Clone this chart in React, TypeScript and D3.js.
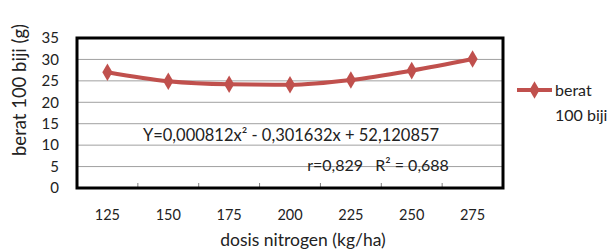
import React, { useRef, useEffect } from 'react';
import * as d3 from 'd3';

const doses = ['125', '150', '175', '200', '225', '250', '275'];
const weights = [27.0, 24.9, 24.2, 24.1, 25.2, 27.4, 30.1];
const yTicks = [0, 5, 10, 15, 20, 25, 30, 35];

const seriesName = ['berat', '100 biji'];
const equation = 'Y=0,000812x² - 0,301632x + 52,120857';
const stats = 'r=0,829   R² = 0,688';

const App = () => {
  const svgRef = useRef<SVGSVGElement>(null);

  useEffect(() => {
    const svg = d3.select(svgRef.current);
    svg.selectAll('*').remove();

    const left = 77;
    const right = 503;
    const top = 38;
    const bottom = 188;
    const red = '#c0504d';
    const font = 'Lato, "Open Sans", sans-serif';

    const x = d3.scaleBand().domain(doses).range([left, right]);
    const y = d3.scaleLinear().domain([0, 35]).range([bottom, top]);

    const g = svg.append('g').style('font-family', font).attr('fill', '#222');

    // white plot area + gridlines
    g.append('rect').attr('x', left).attr('y', top).attr('width', right - left).attr('height', bottom - top).attr('fill', '#fff');
    g.append('g')
      .selectAll('line')
      .data(yTicks.slice(1, -1))
      .join('line')
      .attr('x1', left)
      .attr('x2', right)
      .attr('y1', (d) => y(d))
      .attr('y2', (d) => y(d))
      .attr('stroke', '#a0a0a0')
      .attr('stroke-width', 1);

    // ticks on bottom at band edges
    g.append('g')
      .selectAll('line')
      .data(doses.slice(1))
      .join('line')
      .attr('x1', (d) => x(d)!)
      .attr('x2', (d) => x(d)!)
      .attr('y1', bottom)
      .attr('y2', bottom - 5)
      .attr('stroke', '#808080');

    // frame
    g.append('rect')
      .attr('x', left)
      .attr('y', top)
      .attr('width', right - left)
      .attr('height', bottom - top)
      .attr('fill', 'none')
      .attr('stroke', '#000')
      .attr('stroke-width', 3);

    // y tick labels
    g.append('g')
      .selectAll('text')
      .data(yTicks)
      .join('text')
      .attr('x', 59)
      .attr('y', (d) => y(d))
      .attr('dy', '0.35em')
      .attr('text-anchor', 'end')
      .style('font-size', '15px')
      .text((d) => d);

    // x tick labels
    g.append('g')
      .selectAll('text')
      .data(doses)
      .join('text')
      .attr('x', (d) => x(d)! + x.bandwidth() / 2)
      .attr('y', 215)
      .attr('dy', '0.35em')
      .attr('text-anchor', 'middle')
      .style('font-size', '14.5px')
      .text((d) => d);

    // axis titles
    g.append('text')
      .attr('transform', 'translate(20,90) rotate(-90)')
      .attr('text-anchor', 'middle')
      .attr('dy', '0.35em')
      .style('font-size', '18.5px')
      .text('berat 100 biji (g)');
    g.append('text')
      .attr('x', 303)
      .attr('y', 240)
      .attr('dy', '0.35em')
      .attr('text-anchor', 'middle')
      .style('font-size', '17.5px')
      .text('dosis nitrogen (kg/ha)');

    // equation text
    g.append('text')
      .attr('x', 291)
      .attr('y', 135)
      .attr('dy', '0.35em')
      .attr('text-anchor', 'middle')
      .style('font-size', '16.5px')
      .text(equation);
    g.append('text')
      .attr('x', 378)
      .attr('y', 165)
      .attr('dy', '0.35em')
      .attr('text-anchor', 'middle')
      .style('white-space', 'pre')
      .style('font-size', '16px')
      .text(stats);

    // series line
    const line = d3
      .line<number>()
      .x((d, i) => x(doses[i])! + x.bandwidth() / 2)
      .y((d) => y(d))
      .curve(d3.curveMonotoneX);
    g.append('path').datum(weights).attr('d', line).attr('fill', 'none').attr('stroke', red).attr('stroke-width', 4);

    const diamond = d3.symbol().type(d3.symbolDiamond).size(90);
    g.append('g')
      .selectAll('path')
      .data(weights)
      .join('path')
      .attr('transform', (d, i) => `translate(${x(doses[i])! + x.bandwidth() / 2},${y(d)})`)
      .attr('d', diamond)
      .attr('fill', red);

    // legend
    const lg = g.append('g').attr('transform', 'translate(517,90)');
    lg.append('line').attr('x1', 0).attr('x2', 35).attr('stroke', red).attr('stroke-width', 4);
    lg.append('path').attr('transform', 'translate(17.5,0)').attr('d', diamond).attr('fill', red);
    lg.selectAll('text.lbl')
      .data(seriesName)
      .join('text')
      .attr('class', 'lbl')
      .attr('x', 38)
      .attr('y', (d, i) => i * 25)
      .attr('dy', '0.35em')
      .style('font-size', '16px')
      .text((d) => d);
  }, []);

  return (
    <svg
      ref={svgRef}
      width={607}
      height={250}
      style={{ position: 'absolute', left: 0, top: 0, background: '#fff' }}
    />
  );
};

export default App;
